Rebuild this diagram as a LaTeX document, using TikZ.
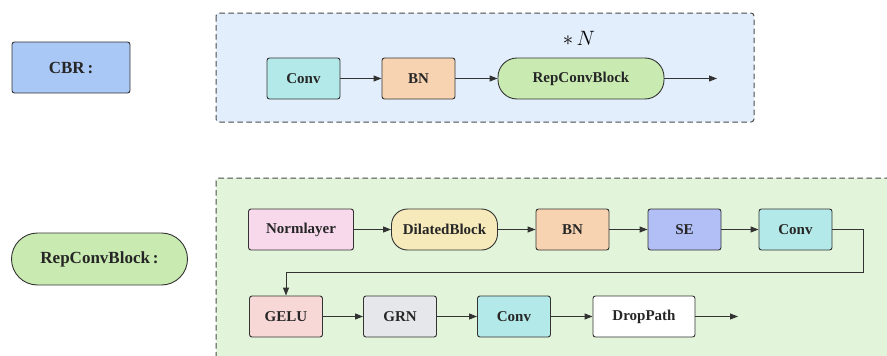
\documentclass[tikz,border=0pt]{standalone}
\usepackage{fontspec}
\setmainfont{Liberation Serif}
\usetikzlibrary{arrows.meta}

\definecolor{edge}{HTML}{333333}
\definecolor{paneledge}{HTML}{4A4A4A}
\definecolor{cbrblue}{HTML}{A9C8F5}
\definecolor{panelblue}{HTML}{E3EEFC}
\definecolor{panelgreen}{HTML}{E2F4D9}
\definecolor{convcyan}{HTML}{B4E9E9}
\definecolor{bnpeach}{HTML}{F8D3B1}
\definecolor{repgreen}{HTML}{C9EBB1}
\definecolor{normpink}{HTML}{F8D9EC}
\definecolor{dilyellow}{HTML}{F7EABA}
\definecolor{seblue}{HTML}{B2BEF6}
\definecolor{gelupink}{HTML}{F8D7D7}
\definecolor{grngray}{HTML}{E5E7EA}

\tikzset{
  blk/.style={draw=edge, line width=0.9pt, rounded corners=2.5pt,
    font=\fontsize{15}{17}\selectfont\bfseries, text=black!85, inner sep=0pt},
  pill/.style={blk, rounded corners=16pt},
  panel/.style={draw=paneledge, line width=1pt, dash pattern=on 5.5pt off 3.5pt, rounded corners=3pt},
  flow/.style={draw=edge, line width=0.9pt, -{Triangle[length=8pt,width=6pt]}},
}

\begin{document}
\begin{tikzpicture}[x=1pt,y=-1pt]
  \useasboundingbox (0,0) rectangle (887,356);
  \clip (0,0) rectangle (887,356);

  % ---- CBR definition ----
  \node[blk, fill=cbrblue, minimum width=118pt, minimum height=51pt,
        font=\fontsize{17}{19}\selectfont\bfseries] (cbr) at (71,67.5) {CBR\,:};

  \draw[panel, fill=panelblue] (216,13) rectangle (754,122);

  \node[blk, fill=convcyan, minimum width=73pt, minimum height=41pt] (c1) at (303.5,78.5) {Conv};
  \node[blk, fill=bnpeach, minimum width=73pt, minimum height=41pt] (b1) at (418.5,78.5) {BN};
  \node[pill, fill=repgreen, rounded corners=19pt, minimum width=166pt, minimum height=41pt] (r1) at (581,78.5) {RepConvBlock};
  \node[font=\fontsize{21}{23}\selectfont] (rep) at (579,38) {$\ast\,N$};
  \coordinate (o1) at (717,78.5);

  \draw[flow] (c1) -- (b1);
  \draw[flow] (b1) -- (r1);
  \draw[flow] (r1) -- (o1);

  % ---- RepConvBlock definition ----
  \node[blk, fill=repgreen, rounded corners=26pt, minimum width=176pt, minimum height=52pt,
        font=\fontsize{17}{19}\selectfont\bfseries] (rcb) at (99.5,259) {RepConvBlock\,:};

  \draw[panel, fill=panelgreen] (216,178) rectangle (900,370);

  \node[blk, fill=normpink, minimum width=105pt, minimum height=41pt] (nl) at (301,229.5) {Normlayer};
  \node[pill, fill=dilyellow, minimum width=106pt, minimum height=41pt] (dl) at (444.5,229.5) {DilatedBlock};
  \node[blk, fill=bnpeach, minimum width=73pt, minimum height=41pt] (b2) at (572.5,229.5) {BN};
  \node[blk, fill=seblue, minimum width=73pt, minimum height=41pt] (se) at (684.5,229.5) {SE};
  \node[blk, fill=convcyan, minimum width=73pt, minimum height=41pt] (c2) at (795.5,229.5) {Conv};

  \node[blk, fill=gelupink, minimum width=73pt, minimum height=41pt] (ge) at (286,316.5) {GELU};
  \node[blk, fill=grngray, minimum width=73pt, minimum height=41pt] (gr) at (400,316.5) {GRN};
  \node[blk, fill=convcyan, minimum width=73pt, minimum height=41pt] (c3) at (514,316.5) {Conv};
  \node[blk, fill=white, minimum width=102pt, minimum height=41pt] (dp) at (644,316.5) {DropPath};
  \coordinate (o2) at (738,316.5);

  \draw[flow] (nl) -- (dl);
  \draw[flow] (dl) -- (b2);
  \draw[flow] (b2) -- (se);
  \draw[flow] (se) -- (c2);
  \draw[flow] (c2.east) -- (863,229.5) -- (863,272.5) -- (286,272.5) -- (ge.north);
  \draw[flow] (ge) -- (gr);
  \draw[flow] (gr) -- (c3);
  \draw[flow] (c3) -- (dp);
  \draw[flow] (dp) -- (o2);
\end{tikzpicture}
\end{document}
